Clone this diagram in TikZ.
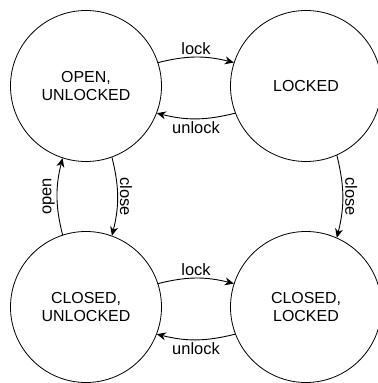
\documentclass[tikz,border=0pt]{standalone}
\usepackage{fontspec}
\setmainfont{Liberation Sans}
\usetikzlibrary{arrows.meta}
\begin{document}
\begin{tikzpicture}[x=1bp,y=1bp,
  state/.style={draw,circle,minimum size=151bp,inner sep=0pt,line width=0.8bp,
    font=\fontsize{16}{19}\selectfont,align=center},
  trans/.style={draw,line width=0.9bp,-{Stealth[length=9bp,width=8bp]}},
  lbl/.style={font=\fontsize{16.5}{19}\selectfont,inner sep=2bp}]
\useasboundingbox (0,0) rectangle (378,383);
\node[state] (ou) at (86,297) {OPEN,\\UNLOCKED};
\node[state] (lk) at (306,297) {LOCKED};
\node[state] (cu) at (86,76) {CLOSED,\\UNLOCKED};
\node[state] (cl) at (306,76) {CLOSED,\\LOCKED};
\draw[trans] (ou.18) to[bend left=14] node[lbl,above] {lock} (lk.162);
\draw[trans] (lk.-159) to[bend left=14] node[lbl,below] {unlock} (ou.-21);
\draw[trans] (ou.-70) to[bend left=14] node[lbl,rotate=-90,anchor=south] {close} (cu.70);
\draw[trans] (cu.108) to[bend left=14] node[lbl,rotate=90,anchor=south] {open} (ou.-108);
\draw[trans] (lk.-66) to[bend left=14] node[lbl,rotate=-90,anchor=south] {close} (cl.66);
\draw[trans] (cu.18) to[bend left=14] node[lbl,above] {lock} (cl.162);
\draw[trans] (cl.-159) to[bend left=14] node[lbl,below] {unlock} (cu.-21);
\end{tikzpicture}
\end{document}
